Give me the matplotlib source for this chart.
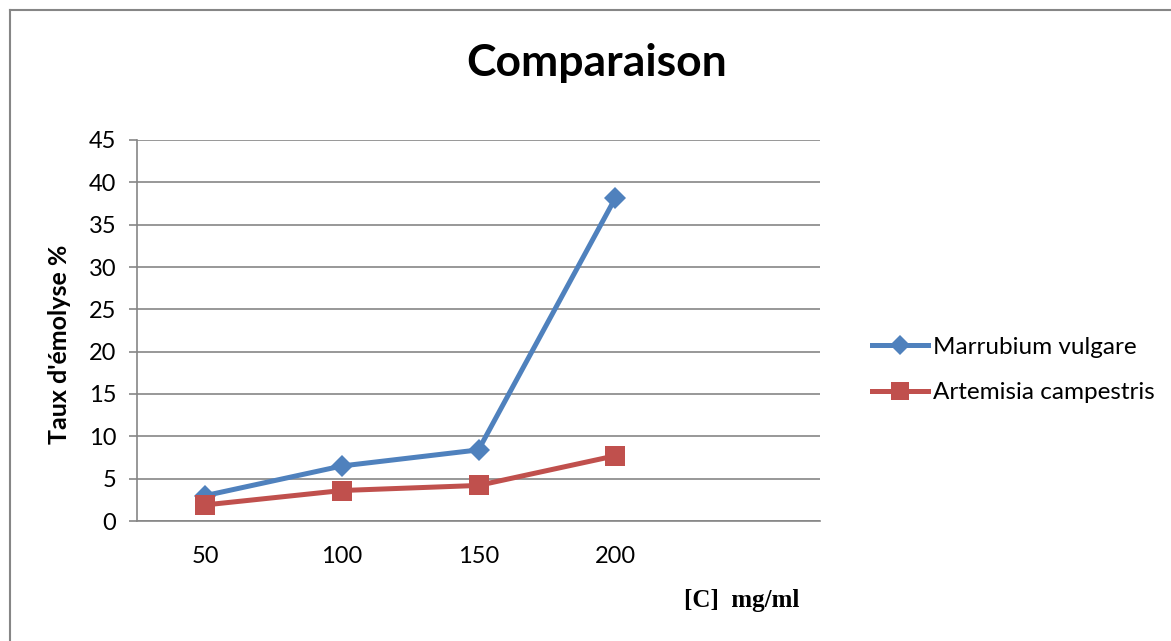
import matplotlib
matplotlib.use("Agg")
import matplotlib.pyplot as plt
from matplotlib.lines import Line2D

concentrations = ["50", "100", "150", "200"]
marrubium = [3.0, 6.5, 8.4, 38.1]
artemisia = [1.9, 3.6, 4.2, 7.7]
series_names = ["Marrubium vulgare", "Artemisia campestris"]
y_ticks = [0, 5, 10, 15, 20, 25, 30, 35, 40, 45]

W, H = 1171, 641
fig = plt.figure(figsize=(W / 100, H / 100), dpi=100)
fig.patch.set_facecolor("white")

sans = ["Lato", "DejaVu Sans"]
grey = "#868686"

ax = fig.add_axes([137 / W, 120 / H, (820 - 137) / W, (521 - 140) / H])

x = list(range(len(concentrations)))
ax.plot(x, marrubium, color="#4F81BD", lw=3.6, marker="D", markersize=11,
        markeredgewidth=0, label=series_names[0], zorder=3)
ax.plot(x, artemisia, color="#C0504D", lw=3.6, marker="s", markersize=14,
        markeredgewidth=0, label=series_names[1], zorder=3)

ax.set_xlim(-0.5, 4.5)
ax.set_ylim(0, 45)
ax.set_yticks(y_ticks)
ax.set_yticklabels([str(v) for v in y_ticks], family=sans, fontsize=17)
ax.set_xticks(x)
ax.set_xticklabels(concentrations, family=sans, fontsize=17)
ax.tick_params(axis="y", direction="out", length=6, width=1.2, color=grey, pad=9)
ax.tick_params(axis="x", length=0, pad=18)

ax.grid(axis="y", color=grey, lw=1.2)
ax.set_axisbelow(True)
for side in ["top", "right"]:
    ax.spines[side].set_visible(False)
for side in ["left", "bottom"]:
    ax.spines[side].set_color(grey)
    ax.spines[side].set_linewidth(1.2)

ax.set_ylabel("Taux d'émolyse %", family=sans, fontsize=18, fontweight="bold")
ax.yaxis.set_label_coords(-0.097, 0.465)

fig.text(742 / W, 1 - 600 / H, "[C]  mg/ml", family=["Liberation Serif", "DejaVu Serif"],
         fontsize=18, fontweight="bold", ha="center", va="center")
fig.text(597 / W, 1 - 63 / H, "Comparaison", family=sans, fontsize=32,
         fontweight="bold", ha="center", va="center")

handles = [
    Line2D([], [], color="#4F81BD", lw=3.6, marker="D", markersize=10.5, markeredgewidth=0),
    Line2D([], [], color="#C0504D", lw=3.6, marker="s", markersize=13, markeredgewidth=0),
]
leg = fig.legend(handles, series_names, loc="center left",
                 bbox_to_anchor=(860 / W, 1 - 370 / H), frameon=False,
                 prop={"family": sans, "size": 17.5}, handlelength=2.3,
                 handletextpad=0.2, labelspacing=1.0, borderpad=0)

# outer chart-area frame
fig.add_artist(Line2D([10 / W, 10 / W], [0, 1 - 10 / H], color=grey, lw=1.5))
fig.add_artist(Line2D([10 / W, 1], [1 - 10 / H, 1 - 10 / H], color=grey, lw=1.5))

fig.savefig("out.png", dpi=100)
